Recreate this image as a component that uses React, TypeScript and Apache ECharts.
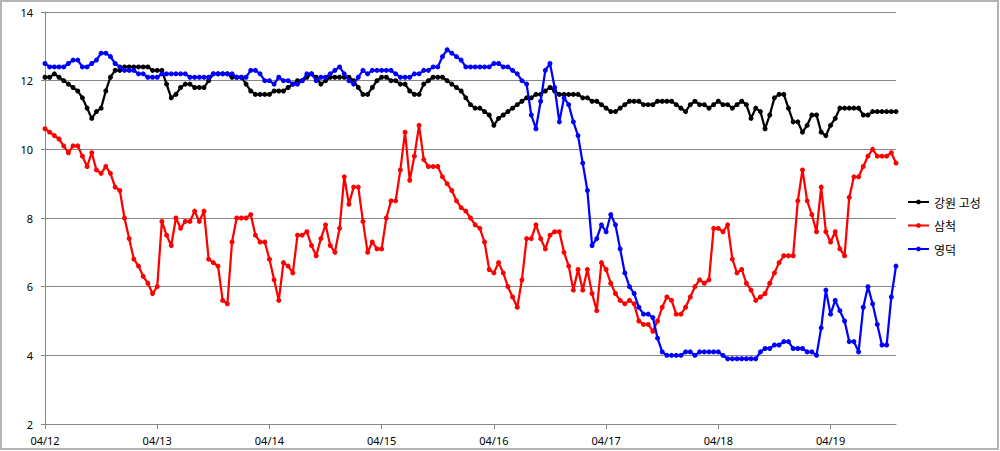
import React, { useEffect, useRef } from "react";
import * as echarts from "echarts";

const dayLabels = ["04/12", "04/13", "04/14", "04/15", "04/16", "04/17", "04/18", "04/19"];
const pointCount = 183; // hourly readings, 04/12 00:00 .. 04/19 14:00

const seriesNames = ["강원 고성", "삼척", "영덕"];

const goseong = [
  12.1, 12.1, 12.2, 12.1, 12.0, 11.9, 11.8, 11.7, 11.5, 11.2,
  10.9, 11.1, 11.2, 11.7, 12.1, 12.3, 12.3, 12.4, 12.4, 12.4,
  12.4, 12.4, 12.4, 12.3, 12.3, 12.3, 11.9, 11.5, 11.6, 11.8,
  11.9, 11.9, 11.8, 11.8, 11.8, 12.0, 12.2, 12.2, 12.2, 12.2,
  12.1, 12.1, 12.1, 11.9, 11.7, 11.6, 11.6, 11.6, 11.6, 11.7,
  11.7, 11.7, 11.8, 11.9, 12.0, 12.0, 12.1, 12.2, 12.1, 11.9,
  12.0, 12.1, 12.1, 12.1, 12.1, 12.1, 12.0, 11.8, 11.6, 11.6,
  11.8, 12.0, 12.1, 12.1, 12.0, 12.0, 11.9, 11.9, 11.7, 11.6,
  11.6, 11.9, 12.0, 12.1, 12.1, 12.1, 12.0, 11.9, 11.8, 11.7,
  11.5, 11.3, 11.2, 11.2, 11.1, 11.0, 10.7, 10.9, 11.0, 11.1,
  11.2, 11.3, 11.4, 11.5, 11.5, 11.6, 11.6, 11.7, 11.8, 11.7,
  11.6, 11.6, 11.6, 11.6, 11.6, 11.5, 11.5, 11.4, 11.4, 11.3,
  11.2, 11.1, 11.1, 11.2, 11.3, 11.4, 11.4, 11.4, 11.3, 11.3,
  11.3, 11.4, 11.4, 11.4, 11.4, 11.3, 11.2, 11.1, 11.3, 11.4,
  11.3, 11.3, 11.2, 11.3, 11.4, 11.3, 11.3, 11.2, 11.3, 11.4,
  11.3, 10.9, 11.2, 11.1, 10.6, 11.0, 11.5, 11.6, 11.6, 11.2,
  10.8, 10.8, 10.5, 10.7, 11.0, 11.0, 10.5, 10.4, 10.7, 10.9,
  11.2, 11.2, 11.2, 11.2, 11.2, 11.0, 11.0, 11.1, 11.1, 11.1,
  11.1, 11.1, 11.1,
];

const samcheok = [
  10.6, 10.5, 10.4, 10.3, 10.1, 9.9, 10.1, 10.1, 9.8, 9.5,
  9.9, 9.4, 9.3, 9.5, 9.3, 8.9, 8.8, 8.0, 7.4, 6.8,
  6.6, 6.3, 6.1, 5.8, 6.0, 7.9, 7.5, 7.2, 8.0, 7.7,
  7.9, 7.9, 8.2, 7.9, 8.2, 6.8, 6.7, 6.6, 5.6, 5.5,
  7.3, 8.0, 8.0, 8.0, 8.1, 7.5, 7.3, 7.3, 6.8, 6.2,
  5.6, 6.7, 6.6, 6.4, 7.5, 7.5, 7.6, 7.2, 6.9, 7.4,
  7.8, 7.2, 7.0, 7.7, 9.2, 8.4, 8.9, 8.9, 7.9, 7.0,
  7.3, 7.1, 7.1, 8.0, 8.5, 8.5, 9.4, 10.5, 9.1, 9.8,
  10.7, 9.7, 9.5, 9.5, 9.5, 9.2, 9.0, 8.8, 8.5, 8.3,
  8.2, 8.0, 7.8, 7.7, 7.3, 6.5, 6.4, 6.7, 6.4, 6.0,
  5.7, 5.4, 6.2, 7.4, 7.4, 7.8, 7.4, 7.1, 7.5, 7.6,
  7.6, 7.0, 6.6, 5.9, 6.5, 5.9, 6.5, 5.8, 5.3, 6.7,
  6.5, 6.1, 5.8, 5.6, 5.5, 5.6, 5.5, 5.0, 4.9, 4.9,
  4.7, 5.0, 5.4, 5.7, 5.6, 5.2, 5.2, 5.4, 5.7, 6.0,
  6.2, 6.1, 6.2, 7.7, 7.7, 7.6, 7.8, 6.8, 6.4, 6.5,
  6.1, 5.9, 5.6, 5.7, 5.8, 6.1, 6.4, 6.7, 6.9, 6.9,
  6.9, 8.5, 9.4, 8.5, 8.1, 7.6, 8.9, 7.6, 7.3, 7.6,
  7.1, 6.9, 8.6, 9.2, 9.2, 9.5, 9.8, 10.0, 9.8, 9.8,
  9.8, 9.9, 9.6,
];

const yeongdeok = [
  12.5, 12.4, 12.4, 12.4, 12.4, 12.5, 12.6, 12.6, 12.4, 12.4,
  12.5, 12.6, 12.8, 12.8, 12.7, 12.5, 12.4, 12.3, 12.3, 12.3,
  12.2, 12.2, 12.1, 12.1, 12.1, 12.2, 12.2, 12.2, 12.2, 12.2,
  12.2, 12.1, 12.1, 12.1, 12.1, 12.1, 12.2, 12.2, 12.2, 12.2,
  12.2, 12.1, 12.1, 12.1, 12.3, 12.3, 12.2, 12.0, 12.0, 11.9,
  12.1, 12.0, 12.0, 11.9, 11.9, 12.0, 12.2, 12.2, 12.0, 12.1,
  12.1, 12.2, 12.3, 12.4, 12.2, 12.0, 11.9, 12.1, 12.3, 12.2,
  12.3, 12.3, 12.3, 12.3, 12.3, 12.2, 12.1, 12.1, 12.1, 12.2,
  12.2, 12.3, 12.3, 12.4, 12.4, 12.7, 12.9, 12.8, 12.7, 12.6,
  12.4, 12.4, 12.4, 12.4, 12.4, 12.4, 12.5, 12.5, 12.4, 12.4,
  12.3, 12.2, 12.0, 11.9, 11.0, 10.6, 11.4, 12.3, 12.5, 11.8,
  10.8, 11.5, 11.3, 10.8, 10.4, 9.6, 8.8, 7.2, 7.4, 7.8,
  7.6, 8.1, 7.8, 7.1, 6.4, 6.0, 5.8, 5.4, 5.2, 5.2,
  5.1, 4.5, 4.1, 4.0, 4.0, 4.0, 4.0, 4.1, 4.1, 4.0,
  4.1, 4.1, 4.1, 4.1, 4.1, 4.0, 3.9, 3.9, 3.9, 3.9,
  3.9, 3.9, 3.9, 4.1, 4.2, 4.2, 4.3, 4.3, 4.4, 4.4,
  4.2, 4.2, 4.2, 4.1, 4.1, 4.0, 4.8, 5.9, 5.2, 5.6,
  5.3, 5.0, 4.4, 4.4, 4.1, 5.4, 6.0, 5.5, 4.9, 4.3,
  4.3, 5.7, 6.6,
];

const seriesColors = ["#000000", "#ff0000", "#0000ff"];

const categories: string[] = [];
for (let i = 0; i < pointCount; i++) {
  const d = dayLabels[Math.floor(i / 24)];
  const h = String(i % 24).padStart(2, "0");
  categories.push(`${d} ${h}:00`);
}

export default function App() {
  const ref = useRef<HTMLDivElement>(null);
  useEffect(() => {
    if (!ref.current) return;
    const chart = echarts.init(ref.current, null, { renderer: "svg" });
    const axisGray = "#868686";
    const dataSets = [goseong, samcheok, yeongdeok];
    chart.setOption({
      animation: false,
      backgroundColor: "#ffffff",
      textStyle: { fontFamily: "'Noto Sans CJK KR', 'Noto Sans', sans-serif" },
      grid: { left: 45, right: 104, top: 12, bottom: 27, containLabel: false },
      legend: {
        orient: "vertical",
        left: 902,
        top: 190,
        itemWidth: 21,
        itemHeight: 6,
        itemGap: 9.5,
        data: seriesNames,
        textStyle: { fontSize: 12, color: "#000", lineHeight: 14, fontFamily: "'Noto Sans CJK KR', sans-serif" },
      },
      xAxis: {
        type: "category",
        boundaryGap: false,
        data: categories,
        axisLine: { show: true, lineStyle: { color: axisGray, width: 1 } },
        axisTick: {
          show: true,
          interval: (i: number) => i % 24 === 0,
          length: 5,
          lineStyle: { color: axisGray },
        },
        axisLabel: {
          interval: (i: number) => i % 24 === 0,
          formatter: (v: string) => v.slice(0, 5),
          color: "#000",
          fontSize: 11,
          margin: 11,
          fontFamily: "'Noto Sans', sans-serif",
        },
        splitLine: { show: false },
      },
      yAxis: {
        type: "value",
        min: 2,
        max: 14,
        interval: 2,
        axisLine: { show: true, lineStyle: { color: axisGray, width: 1 } },
        axisTick: { show: true, length: 4, lineStyle: { color: axisGray } },
        axisLabel: { color: "#000", fontSize: 11, margin: 12, fontFamily: "'Noto Sans', sans-serif" },
        splitLine: { show: true, lineStyle: { color: axisGray, width: 1 } },
      },
      series: seriesNames.map((name, k) => ({
        name,
        type: "line",
        data: dataSets[k],
        symbol: "circle",
        symbolSize: 5,
        showSymbol: true,
        showAllSymbol: true,
        lineStyle: { color: seriesColors[k], width: 2.25 },
        itemStyle: { color: seriesColors[k] },
        emphasis: { disabled: true },
        z: 2 + k,
      })),
      graphic: [
        {
          type: "rect",
          shape: { x: 1, y: 1, width: 997, height: 448 },
          style: { fill: "none", stroke: "#b4b4b4", lineWidth: 2 },
          silent: true,
        },
      ],
    });
    return () => chart.dispose();
  }, []);
  return (
    <div
      ref={ref}
      style={{ position: "absolute", left: 0, top: 0, width: 1000, height: 451 }}
    />
  );
}
